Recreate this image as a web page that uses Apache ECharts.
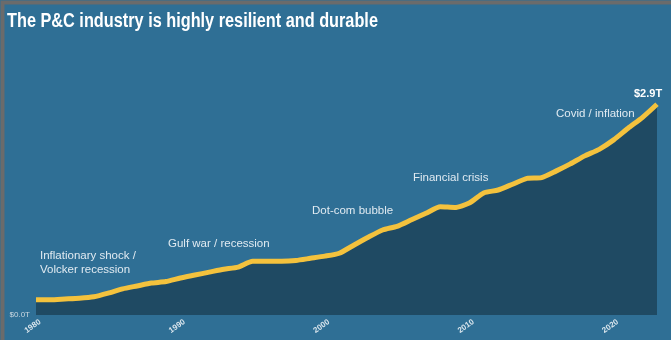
<!DOCTYPE html>
<html>
<head>
<meta charset="utf-8">
<script src="https://cdn.jsdelivr.net/npm/echarts@6/dist/echarts.min.js"></script>
<style>
  html, body { margin: 0; padding: 0; background: #2f6f95; }
  #chart { width: 671px; height: 340px; }
</style>
</head>
<body>
<div id="chart"></div>
<script>
// Total P&C industry size, trillions of dollars, by year
const years = [
  1980, 1981, 1982, 1983, 1984, 1985, 1986, 1987, 1988, 1989,
  1990, 1991, 1992, 1993, 1994, 1995, 1996, 1997, 1998, 1999,
  2000, 2001, 2002, 2003, 2004, 2005, 2006, 2007, 2008, 2009,
  2010, 2011, 2012, 2013, 2014, 2015, 2016, 2017, 2018, 2019,
  2020, 2021, 2022, 2023
];
const industryTrillions = [
  0.21, 0.21, 0.22, 0.23, 0.25, 0.30, 0.36, 0.40, 0.44, 0.46,
  0.51, 0.55, 0.59, 0.63, 0.66, 0.74, 0.74, 0.74, 0.75, 0.78,
  0.81, 0.85, 0.96, 1.07, 1.17, 1.22, 1.31, 1.40, 1.49, 1.48,
  1.54, 1.68, 1.72, 1.80, 1.88, 1.89, 1.98, 2.08, 2.19, 2.28,
  2.41, 2.57, 2.72, 2.90
];
const yearTicks = [1980, 1990, 2000, 2010, 2020];

// Event callouts along the curve
const events = [
  { text: 'Inflationary shock /\nVolcker recession', left: 40, top: 249 },
  { text: 'Gulf war / recession', left: 168, top: 237 },
  { text: 'Dot-com bubble', left: 312, top: 204 },
  { text: 'Financial crisis', left: 413, top: 171 },
  { text: 'Covid / inflation', left: 556, top: 107 }
];

const chart = echarts.init(document.getElementById('chart'), null, { renderer: 'canvas' });

const option = {
  backgroundColor: '#2f6f95',
  animation: false,
  grid: { left: 36, right: 14, top: 97, bottom: 25 },
  xAxis: {
    type: 'value',
    min: 1980,
    max: 2023,
    interval: 10,
    axisLine: { show: false },
    axisTick: { show: false },
    splitLine: { show: false },
    axisLabel: {
      rotate: 35,
      align: 'center',
      margin: 9,
      color: '#dce7ee',
      fontSize: 8,
      fontWeight: 'bold',
      fontFamily: '"Liberation Sans", sans-serif',
      formatter: v => (yearTicks.includes(v) ? '{y|' + v + '}' : ''),
      rich: {
        y: {
          padding: [0, 8, 0, 0],
          color: '#dce7ee',
          fontSize: 8,
          fontWeight: 'bold',
          fontFamily: '"Liberation Sans", sans-serif'
        }
      }
    }
  },
  yAxis: {
    type: 'value',
    min: 0,
    max: 3,
    interval: 1,
    axisLine: { show: false },
    axisTick: { show: false },
    splitLine: { show: false },
    axisLabel: {
      margin: 6,
      color: '#c9d7e0',
      fontSize: 8,
      fontFamily: '"Liberation Sans", sans-serif',
      formatter: v => (v === 0 ? '$0.0T' : '')
    }
  },
  series: [{
    type: 'line',
    data: years.map((y, i) => [y, industryTrillions[i]]),
    smooth: 0.2,
    symbol: 'none',
    clip: false,
    lineStyle: { color: '#f4c23d', width: 5 },
    areaStyle: { color: '#1f4a63', opacity: 1 },
    endLabel: {
      show: true,
      offset: [-31, -10],
      formatter: p => '$' + p.value[1].toFixed(1) + 'T',
      color: '#ffffff',
      fontFamily: '"Liberation Sans", Arial, sans-serif',
      fontWeight: 'bold',
      fontSize: 11
    },
    z: 3
  }],
  graphic: [
    {
      type: 'text',
      x: 7,
      y: 12,
      scaleX: 0.835,
      style: {
        text: 'The P&C industry is highly resilient and durable',
        fill: '#ffffff',
        font: 'bold 19.5px "Liberation Sans", Arial, sans-serif'
      },
      z: 50
    },
    {
      type: 'rect',
      left: 0, top: 0,
      shape: { width: 671, height: 340 },
      style: { fill: 'none', stroke: '#6b6b6b', lineWidth: 4 },
      silent: true,
      z: 100
    }
  ].concat(events.map(e => ({
    type: 'text',
    left: e.left,
    top: e.top,
    style: {
      text: e.text,
      fill: '#e0eaf1',
      font: '11.5px "Liberation Sans", Arial, sans-serif',
      lineHeight: 14
    },
    z: 50
  })))
};

chart.setOption(option);
</script>
</body>
</html>
